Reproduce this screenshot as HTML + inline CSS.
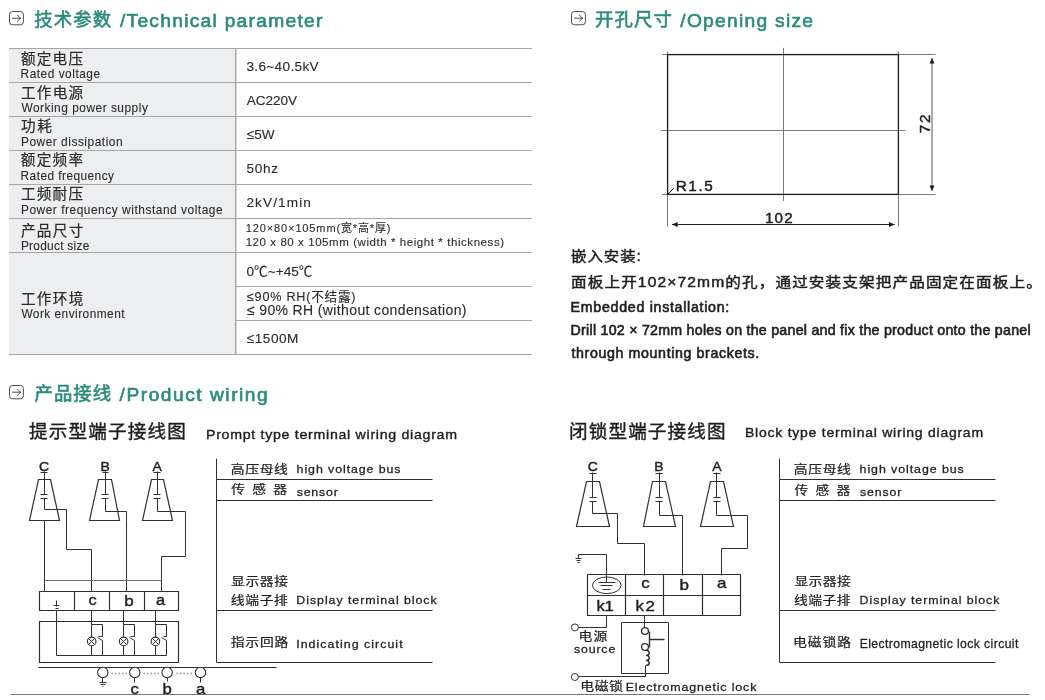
<!DOCTYPE html>
<html lang="zh-CN">
<head>
<meta charset="utf-8">
<title>技术参数 / Technical parameter</title>
<style>
*{box-sizing:border-box;margin:0;padding:0}
html,body{width:1045px;height:700px;background:#fff;overflow:hidden}
body{position:relative;will-change:transform;font-family:"Liberation Sans","Noto Sans CJK SC",sans-serif;color:#1e1e1e}
h2,p,span.x,div.x{position:absolute;white-space:nowrap;line-height:1;font-weight:400;font-size:13px}
.x{position:absolute;white-space:nowrap;line-height:1;font-weight:400;-webkit-text-stroke-color:currentColor}
h2{left:0;top:0;width:0;height:0}
.ico{position:absolute;width:15px;height:15px}
table{position:absolute;left:9px;top:48px;width:523px;border-collapse:collapse;table-layout:fixed}
td{height:34px;border-top:1px solid #a6a6a6;border-bottom:1px solid #a6a6a6;padding:0}
td.k{width:226.5px;background:#edeef0;border-right:1px solid #a6a6a6;box-shadow:1px 0 0 #d6d6d6}
svg{position:absolute;left:0;top:0;overflow:visible}
svg text{font-family:"Liberation Sans","Noto Sans CJK SC",sans-serif;fill:#1e1e1e;stroke:#1e1e1e;stroke-linejoin:round}
</style>
</head>
<body>
<section id="tech">
<svg class="ico" style="left:9.2px;top:11px" width="15" height="15" viewBox="0 0 15 15" aria-hidden="true"><rect x="0.5" y="0.5" width="13.9" height="13.3" rx="3" ry="3" fill="none" stroke="#4a4a4a" stroke-width="1"/><path d="M3.5 7.2H11.5M8.3 4.1L11.6 7.2L8.3 10.3" fill="none" stroke="#3c3c3c" stroke-width="0.9" stroke-linecap="round" stroke-linejoin="round"/></svg><h2 id="h1"><span class="x" id="h1z" style="left:34.27px;top:11px;font-size:18.4px;color:#2c8b7d;letter-spacing:1.09px;-webkit-text-stroke-width:0.6px">技术参数</span> <span class="x" id="h1e" style="left:119.94px;top:11px;font-size:19.2px;color:#2c8b7d;letter-spacing:1.28px;-webkit-text-stroke-width:0.65px">/Technical parameter</span></h2>
<table>
<tr><td class="k" id="c1k"><span class="x" id="k1z" style="left:11.98px;top:3.52px;font-size:14.6px;color:#2b2b2b;letter-spacing:1.22px;-webkit-text-stroke-width:0.2px">额定电压</span><span class="x" id="k1e" style="left:11.57px;top:20.14px;font-size:11.9px;color:#2b2b2b;letter-spacing:0.51px;-webkit-text-stroke-width:0.1px">Rated voltage</span></td><td class="v" id="c1v"><span class="x" id="v1" style="left:237.4px;top:11.78px;font-size:13.6px;color:#2b2b2b;letter-spacing:0.34px;-webkit-text-stroke-width:0.12px">3.6~40.5kV</span></td></tr>
<tr><td class="k" id="c2k"><span class="x" id="k2z" style="left:11.92px;top:37px;font-size:14.6px;color:#2b2b2b;letter-spacing:1.31px;-webkit-text-stroke-width:0.2px">工作电源</span><span class="x" id="k2e" style="left:12.4px;top:54.14px;font-size:11.9px;color:#2b2b2b;letter-spacing:0.51px;-webkit-text-stroke-width:0.1px">Working power supply</span></td><td class="v" id="c2v"><span class="x" id="v2" style="left:237.83px;top:45.78px;font-size:13.6px;color:#2b2b2b;letter-spacing:-0.06px;-webkit-text-stroke-width:0.12px">AC220V</span></td></tr>
<tr><td class="k" id="c3k"><span class="x" id="k3z" style="left:11.98px;top:70px;font-size:14.6px;color:#2b2b2b;letter-spacing:1.61px;-webkit-text-stroke-width:0.2px">功耗</span><span class="x" id="k3e" style="left:11.93px;top:88.14px;font-size:11.9px;color:#2b2b2b;letter-spacing:0.53px;-webkit-text-stroke-width:0.1px">Power dissipation</span></td><td class="v" id="c3v"><span class="x" id="v3" style="left:237.76px;top:79.78px;font-size:13.6px;color:#2b2b2b;letter-spacing:-0.01px;-webkit-text-stroke-width:0.12px">≤5W</span></td></tr>
<tr><td class="k" id="c4k"><span class="x" id="k4z" style="left:11.82px;top:104px;font-size:14.6px;color:#2b2b2b;letter-spacing:1.27px;-webkit-text-stroke-width:0.2px">额定频率</span><span class="x" id="k4e" style="left:11.57px;top:122.14px;font-size:11.9px;color:#2b2b2b;letter-spacing:0.44px;-webkit-text-stroke-width:0.1px">Rated frequency</span></td><td class="v" id="c4v"><span class="x" id="v4" style="left:237.4px;top:113.78px;font-size:13.6px;color:#2b2b2b;letter-spacing:0.72px;-webkit-text-stroke-width:0.12px">50hz</span></td></tr>
<tr><td class="k" id="c5k"><span class="x" id="k5z" style="left:11.88px;top:138px;font-size:14.6px;color:#2b2b2b;letter-spacing:1.24px;-webkit-text-stroke-width:0.2px">工频耐压</span><span class="x" id="k5e" style="left:11.93px;top:156.14px;font-size:11.9px;color:#2b2b2b;letter-spacing:0.54px;-webkit-text-stroke-width:0.1px">Power frequency withstand voltage</span></td><td class="v" id="c5v"><span class="x" id="v5" style="left:237.4px;top:147.78px;font-size:13.6px;color:#2b2b2b;letter-spacing:1.11px;-webkit-text-stroke-width:0.12px">2kV/1min</span></td></tr>
<tr><td class="k" id="c6k"><span class="x" id="k6z" style="left:11.89px;top:175.26px;font-size:14.6px;color:#2b2b2b;letter-spacing:1.34px;-webkit-text-stroke-width:0.2px">产品尺寸</span><span class="x" id="k6e" style="left:11.93px;top:192.14px;font-size:11.9px;color:#2b2b2b;letter-spacing:0.27px;-webkit-text-stroke-width:0.1px">Product size</span></td><td class="v" id="c6v"><span class="x" id="v6a" style="left:236.87px;top:174.65px;font-size:11px;color:#2b2b2b;letter-spacing:0.87px;-webkit-text-stroke-width:0.12px">120×80×105mm(宽*高*厚)</span><span class="x" id="v6b" style="left:236.67px;top:188.22px;font-size:11.5px;color:#2b2b2b;letter-spacing:0.57px;-webkit-text-stroke-width:0.12px">120 x 80 x 105mm (width * height * thickness)</span></td></tr>
<tr><td class="k" id="c7k" rowspan="3"><span class="x" id="k7z" style="left:11.92px;top:243.95px;font-size:14.6px;color:#2b2b2b;letter-spacing:1.33px;-webkit-text-stroke-width:0.2px">工作环境</span><span class="x" id="k7e" style="left:12.4px;top:260.14px;font-size:11.9px;color:#2b2b2b;letter-spacing:0.46px;-webkit-text-stroke-width:0.1px">Work environment</span></td><td class="v" id="c7v"><span class="x" id="v7" style="left:237.54px;top:216.78px;font-size:13.6px;color:#2b2b2b;letter-spacing:0.02px;-webkit-text-stroke-width:0.12px">0℃~+45℃</span></td></tr>
<tr><td class="v" id="c8v"><span class="x" id="v8a" style="left:237.92px;top:242px;font-size:12.6px;color:#2b2b2b;letter-spacing:0.78px;-webkit-text-stroke-width:0.12px">≤90% RH(不结露)</span><span class="x" id="v8b" style="left:237.91px;top:254.1px;font-size:14px;color:#2b2b2b;letter-spacing:0.37px;-webkit-text-stroke-width:0.12px">≤ 90% RH (without condensation)</span></td></tr>
<tr><td class="v" id="c9v"><span class="x" id="v9" style="left:237.76px;top:283.78px;font-size:13.6px;color:#2b2b2b;letter-spacing:0.53px;-webkit-text-stroke-width:0.12px">≤1500M</span></td></tr>
</table>
</section>
<section id="open">
<svg class="ico" style="left:570.6px;top:10.7px" width="15" height="15" viewBox="0 0 15 15" aria-hidden="true"><rect x="0.5" y="0.5" width="13.9" height="13.3" rx="3" ry="3" fill="none" stroke="#4a4a4a" stroke-width="1"/><path d="M3.5 7.2H11.5M8.3 4.1L11.6 7.2L8.3 10.3" fill="none" stroke="#3c3c3c" stroke-width="0.9" stroke-linecap="round" stroke-linejoin="round"/></svg><h2 id="h2"><span class="x" id="h2z" style="left:594.95px;top:11px;font-size:18.4px;color:#2c8b7d;letter-spacing:1.17px;-webkit-text-stroke-width:0.6px">开孔尺寸</span><span class="x" id="h2e" style="left:680.31px;top:11px;font-size:19.2px;color:#2c8b7d;letter-spacing:1.28px;-webkit-text-stroke-width:0.65px">/Opening size</span></h2>
<div id="inst"><p class="x" id="p1" style="left:571px;top:249px;font-size:14px;color:#1e1e1e;letter-spacing:0.9px;-webkit-text-stroke-width:0.45px;transform:scaleX(1.1);transform-origin:0 0">嵌入安装:</p>
<p class="x" id="p2" style="left:571px;top:275px;font-size:14.2px;color:#1e1e1e;letter-spacing:1.01px;-webkit-text-stroke-width:0.45px;transform:scaleX(1.1);transform-origin:0 0">面板上开102×72mm的孔，通过安装支架把产品固定在面板上。</p>
<p class="x" id="p3" style="left:570.62px;top:300px;font-size:14.2px;color:#1e1e1e;letter-spacing:0.72px;-webkit-text-stroke-width:0.6px">Embedded installation:</p>
<p class="x" id="p4" style="left:570.62px;top:323px;font-size:14.2px;color:#1e1e1e;letter-spacing:0.26px;-webkit-text-stroke-width:0.6px">Drill 102 × 72mm holes on the panel and fix the product onto the panel</p>
<p class="x" id="p5" style="left:571.52px;top:346px;font-size:14.2px;color:#1e1e1e;letter-spacing:0.63px;-webkit-text-stroke-width:0.6px">through mounting brackets.</p></div>
</section>
<section id="wiring">
<svg class="ico" style="left:9.2px;top:384.6px" width="15" height="15" viewBox="0 0 15 15" aria-hidden="true"><rect x="0.5" y="0.5" width="13.9" height="13.3" rx="3" ry="3" fill="none" stroke="#4a4a4a" stroke-width="1"/><path d="M3.5 7.2H11.5M8.3 4.1L11.6 7.2L8.3 10.3" fill="none" stroke="#3c3c3c" stroke-width="0.9" stroke-linecap="round" stroke-linejoin="round"/></svg><h2 id="h3"><span class="x" id="h3z" style="left:34.54px;top:385px;font-size:18.4px;color:#2c8b7d;letter-spacing:1.03px;-webkit-text-stroke-width:0.6px">产品接线</span><span class="x" id="h3e" style="left:119.61px;top:385px;font-size:19.2px;color:#2c8b7d;letter-spacing:1.51px;-webkit-text-stroke-width:0.65px">/Product wiring</span></h2>
<div class="x" id="d1" style="left:29.1px;top:423.04px;font-size:18.6px;color:#1e1e1e;letter-spacing:1.14px;-webkit-text-stroke-width:0.4px">提示型端子接线图</div>
<div class="x" id="d1e" style="left:206px;top:428px;font-size:13.4px;color:#1e1e1e;letter-spacing:0.66px;-webkit-text-stroke-width:0.38px;transform:scaleX(1.06);transform-origin:0 0">Prompt type terminal wiring diagram</div>
<div class="x" id="d2" style="left:569.09px;top:422.72px;font-size:18.6px;color:#1e1e1e;letter-spacing:1.1px;-webkit-text-stroke-width:0.4px">闭锁型端子接线图</div>
<div class="x" id="d2e" style="left:745px;top:426px;font-size:13.2px;color:#1e1e1e;letter-spacing:0.72px;-webkit-text-stroke-width:0.38px;transform:scaleX(1.06);transform-origin:0 0">Block type terminal wiring diagram</div>
<svg width="1045" height="700" viewBox="0 0 1045 700">
<defs><marker id="ar" viewBox="0 0 10 10" refX="10" refY="5" markerWidth="5.6" markerHeight="5.6" markerUnits="userSpaceOnUse" orient="auto-start-reverse"><path d="M0 0.6L10 5L0 9.4z" fill="#1c1c1c"/></marker></defs>
<g id="opening" fill="none" stroke="#7a7a7a" stroke-width="1">
<path d="M662 54.5H935.5M662 194.5H935.5M667.5 51.5V226.6M898.5 51.5V226.6"/>
<path d="M783.5 47.8V200.9M660.8 130.5H905.4"/>
<rect x="667.6" y="54.6" width="230.8" height="139.8" stroke="#1c1c1c" stroke-width="1.3"/>
<path d="M667.6 194.4L673.8 188.2" stroke="#1c1c1c"/>
<path d="M932 58V191" stroke="#666" stroke-width="1.1" marker-start="url(#ar)" marker-end="url(#ar)"/>
<path d="M672 224.5H894.6" stroke="#222" stroke-width="1.1" marker-start="url(#ar)" marker-end="url(#ar)"/>
</g>
<g id="wiring-left" fill="none" stroke="#303030" stroke-width="1">
<path stroke-width="1.2" d="M38.5 479.5H50.5L59.5 520.5H29.5Z M98.5 479.5H111.5L119.5 520.5H89.5Z M151.5 479.5H163.5L172.5 520.5H142.5Z"/>
<path d="M44.5 471.5V494.5M40.5 472.5H47.5"/>
<path stroke-width="1.2" d="M40.5 494.5H47.5M40.5 498.5H47.5"/>
<path d="M105.5 471.5V494.5M102.5 472.5H108.5"/>
<path stroke-width="1.2" d="M101.5 494.5H108.5M101.5 498.5H108.5"/>
<path d="M157.5 471.5V494.5M153.5 472.5H160.5"/>
<path stroke-width="1.2" d="M153.5 494.5H160.5M153.5 498.5H160.5"/>
<path d="M44.5 498.5V509.5H66.5V549.5H91.5V591.5"/>
<path d="M105.5 498.5V511.5H126.5V591.5"/>
<path d="M157.5 498.5V511.5H185.5V556.5H161.5V591.5"/>
<path d="M44.5 520.5V591.5"/>
<path stroke="#6a6a6a" d="M44.5 580.5H161.5"/>
<path stroke-width="1.2" d="M39.5 591.5H178.5V610.5H39.5ZM74.5 591.5V610.5M109.5 591.5V610.5M144.5 591.5V610.5"/>
<path d="M56.5 600.5V606.5M53.5 605.5H59.5M55.5 608.5H58.5"/>
<path stroke-width="1.2" d="M39.5 621.5H178.5V662.5H39.5Z"/>
<path d="M56.5 610.5V655.5H166.5"/>
<path d="M91.5 610.5V637.5M91.5 645.5V655.5M91.5 624.5H102.5V636.5H98.5M97.5 637.5L102.5 640.5V655.5"/>
<circle cx="91.7" cy="641.4" r="4.3" stroke-width="1.1"/>
<path d="M88.5 638.5L94.5 644.5M94.5 638.5L88.5 644.5"/>
<path d="M123.5 610.5V637.5M123.5 645.5V655.5M123.5 624.5H134.5V636.5H130.5M129.5 637.5L134.5 640.5V655.5"/>
<circle cx="123.6" cy="641.4" r="4.3" stroke-width="1.1"/>
<path d="M120.5 638.5L126.5 644.5M126.5 638.5L120.5 644.5"/>
<path d="M155.5 610.5V637.5M155.5 645.5V655.5M155.5 624.5H166.5V636.5H163.5M161.5 637.5L166.5 640.5V655.5"/>
<circle cx="155.4" cy="641.4" r="4.3" stroke-width="1.1"/>
<path d="M152.5 638.5L158.5 644.5M158.5 638.5L152.5 644.5"/>
<path d="M38.5 667.5H276.5"/>
<circle cx="102.8" cy="672.5" r="5.2" fill="#fff" stroke-width="1.1"/>
<circle cx="134.8" cy="672.5" r="5.2" fill="#fff" stroke-width="1.1"/>
<circle cx="167.1" cy="672.5" r="5.2" fill="#fff" stroke-width="1.1"/>
<circle cx="200.5" cy="672.5" r="5.2" fill="#fff" stroke-width="1.1"/>
<path stroke="#8a8a8a" stroke-width="1.5" stroke-dasharray="1.4 2.1" d="M111.5 673.5H128.5M143.5 673.5H160.5M176.5 673.5H193.5"/>
<path d="M102.5 677.5V682.5M99.5 682.5H106.5M100.5 684.5H105.5M102.5 686.5H103.5"/>
<path d="M134.5 677.5V682.5M167.5 677.5V681.5M200.5 677.5V682.5"/>
<path d="M216.5 458.5V662.5M216.5 479.5H432.5M216.5 500.5H432.5M216.5 610.5H432.5M216.5 662.5H432.5"/>
</g>
<g id="wiring-right" fill="none" stroke="#303030" stroke-width="1">
<path stroke-width="1.2" d="M586.5 481.5H599.5L609.5 526.5H576.5Z M652.5 481.5H665.5L675.5 526.5H643.5Z M710.5 481.5H723.5L733.5 526.5H700.5Z"/>
<path d="M592.5 472.5V497.5M589.5 473.5H596.5"/>
<path stroke-width="1.2" d="M589.5 497.5H596.5M589.5 501.5H596.5"/>
<path d="M659.5 472.5V497.5M655.5 473.5H662.5"/>
<path stroke-width="1.2" d="M655.5 497.5H662.5M655.5 501.5H662.5"/>
<path d="M716.5 472.5V497.5M713.5 473.5H720.5"/>
<path stroke-width="1.2" d="M713.5 497.5H720.5M713.5 501.5H720.5"/>
<path d="M592.5 501.5V513.5H617.5V543.5H644.5V575.5"/>
<path d="M659.5 501.5V515.5H682.5V575.5"/>
<path d="M716.5 501.5V515.5H747.5V548.5H721.5V575.5"/>
<path d="M606.5 582.5V554.5H578.5V558.5M575.5 558.5H581.5M576.5 560.5H580.5M577.5 562.5H579.5"/>
<path stroke-width="1.2" d="M587.5 574.5H740.5V615.5H587.5ZM587.5 595.5H740.5M625.5 574.5V615.5M663.5 574.5V615.5M702.5 574.5V615.5"/>
<ellipse cx="606.8" cy="585.3" rx="14.3" ry="8.3"/>
<path stroke-width="1.2" d="M598.5 582.5H615.5M600.5 585.5H612.5M602.5 589.5H610.5"/>
<path d="M606.5 615.5V627.5H578.5"/>
<circle cx="574.9" cy="627.4" r="3.5"/>
<circle cx="574.9" cy="677" r="3.5"/>
<path d="M578.5 676.5H645.5V665.5"/>
<path d="M621.5 622.5H668.5V673.5H621.5Z"/>
<path d="M644.5 615.5V627.5"/>
<path stroke-width="1.4" d="M649.5 631.5V647.5M649.5 639.5H664.5"/>
<circle cx="645" cy="631" r="3.4" stroke-width="1.3"/>
<circle cx="645" cy="647" r="3.4" stroke-width="1.3"/>
<path stroke-width="1.4" d="M646 650.4a3.2 2.5 0 0 1 0 5a3.2 2.5 0 0 1 0 5a3.2 2.5 0 0 1 0 5"/>
<path d="M779.5 458.5V662.5M779.5 479.5H995.5M779.5 500.5H995.5M779.5 610.5H995.5M779.5 662.5H995.5"/>
</g>
<path id="rule" d="M10.5 694.5H1029.5" stroke="#777" stroke-width="1" fill="none"/>
<g id="labels">
<text id="t102" font-size="14.4" letter-spacing="1.15" stroke-width="0.45" transform="translate(764.88 223) scale(1.06 1)">102</text>
<text id="tR" font-size="14.4" letter-spacing="1.51" stroke-width="0.45" transform="translate(675.69 191) scale(1.06 1)">R1.5</text>
<text id="t72" font-size="14.4" letter-spacing="1.58" stroke-width="0.45" transform="translate(930.14 133.13) rotate(-90) scale(1.06 1)">72</text>
<text id="lC" font-size="13.2" stroke-width="0.45" transform="translate(38.99 471) scale(1.06 1)">C</text>
<text id="lB" font-size="13.2" stroke-width="0.45" transform="translate(100.52 471) scale(1.06 1)">B</text>
<text id="lA" font-size="13.2" stroke-width="0.45" transform="translate(152.59 471) scale(1.06 1)">A</text>
<text id="rC" font-size="13.2" stroke-width="0.45" transform="translate(587.67 470.74) scale(1.06 1)">C</text>
<text id="rB" font-size="13.2" stroke-width="0.45" transform="translate(654.21 470.74) scale(1.06 1)">B</text>
<text id="rA" font-size="13.2" stroke-width="0.45" transform="translate(712.19 470.74) scale(1.06 1)">A</text>
<text id="lc" font-size="14.6" stroke-width="0.4" transform="translate(88.53 605) scale(1.12 1)">c</text>
<text id="lb" font-size="15.2" stroke-width="0.4" transform="translate(124.13 606.33) scale(1.12 1)">b</text>
<text id="la" font-size="14.6" stroke-width="0.4" transform="translate(156.08 605) scale(1.12 1)">a</text>
<text id="bc" font-size="15" stroke-width="0.4" transform="translate(130.46 693.8) scale(1.12 1)">c</text>
<text id="bb" font-size="15" stroke-width="0.4" transform="translate(162.61 693.8) scale(1.12 1)">b</text>
<text id="ba" font-size="15" stroke-width="0.4" transform="translate(196.11 693.8) scale(1.12 1)">a</text>
<text id="rc" font-size="15.2" stroke-width="0.4" transform="translate(641.18 588) scale(1.12 1)">c</text>
<text id="rb" font-size="15.2" stroke-width="0.4" transform="translate(679.62 590.17) scale(1.12 1)">b</text>
<text id="ra" font-size="15.2" stroke-width="0.4" transform="translate(717.02 588) scale(1.12 1)">a</text>
<text id="k1" font-size="15" letter-spacing="-0.49" stroke-width="0.4" transform="translate(596.55 610.72) scale(1.12 1)">k1</text>
<text id="k2" font-size="15" letter-spacing="1.59" stroke-width="0.4" transform="translate(635.43 610.72) scale(1.12 1)">k2</text>
<text id="lz1" font-size="12" letter-spacing="0.54" stroke-width="0.22" transform="translate(230.85 474) scale(1.15 1)">高压母线</text>
<text id="le1" font-size="11.8" letter-spacing="0.88" stroke-width="0.28" transform="translate(296.6 472.56) scale(1.05 1)">high voltage bus</text>
<text id="lz2" font-size="12" letter-spacing="1.47" stroke-width="0.22" transform="translate(231.18 493.68) scale(1.15 1)">传 感 器</text>
<text id="le2" font-size="11.8" letter-spacing="0.76" stroke-width="0.28" transform="translate(296.69 495.79) scale(1.05 1)">sensor</text>
<text id="lz3" font-size="12" letter-spacing="0.49" stroke-width="0.22" transform="translate(231.12 585.68) scale(1.15 1)">显示器接</text>
<text id="lz4" font-size="12" letter-spacing="0.56" stroke-width="0.22" transform="translate(230.78 605.14) scale(1.15 1)">线端子排</text>
<text id="le4" font-size="11.8" letter-spacing="0.91" stroke-width="0.28" transform="translate(296.31 604.04) scale(1.05 1)">Display terminal block</text>
<text id="lz5" font-size="12" letter-spacing="0.67" stroke-width="0.22" transform="translate(230.79 646.84) scale(1.15 1)">指示回路</text>
<text id="le5" font-size="11.8" letter-spacing="0.99" stroke-width="0.28" transform="translate(296.22 648.32) scale(1.05 1)">Indicating circuit</text>
<text id="rz1" font-size="12" letter-spacing="0.57" stroke-width="0.22" transform="translate(793.78 474.17) scale(1.15 1)">高压母线</text>
<text id="re1" font-size="11.8" letter-spacing="0.89" stroke-width="0.28" transform="translate(859.6 472.56) scale(1.05 1)">high voltage bus</text>
<text id="rz2" font-size="12" letter-spacing="1.48" stroke-width="0.22" transform="translate(794.42 495) scale(1.15 1)">传 感 器</text>
<text id="re2" font-size="11.8" letter-spacing="0.81" stroke-width="0.28" transform="translate(859.93 496.27) scale(1.05 1)">sensor</text>
<text id="rz3" font-size="12" letter-spacing="0.35" stroke-width="0.22" transform="translate(794.41 585.94) scale(1.15 1)">显示器接</text>
<text id="rz4" font-size="12" letter-spacing="0.44" stroke-width="0.22" transform="translate(793.97 605.04) scale(1.15 1)">线端子排</text>
<text id="re4" font-size="11.8" letter-spacing="0.88" stroke-width="0.28" transform="translate(859.61 604) scale(1.05 1)">Display terminal block</text>
<text id="rz5" font-size="12" letter-spacing="0.84" stroke-width="0.22" transform="translate(793 647) scale(1.15 1)">电磁锁路</text>
<text id="re5" font-size="12.2" letter-spacing="0.41" stroke-width="0.28" x="859.64" y="647.74">Electromagnetic lock circuit</text>
<text id="sz1" font-size="12" letter-spacing="1.04" stroke-width="0.22" transform="translate(578.6 640.7) scale(1.15 1)">电源</text>
<text id="se1" font-size="11.8" letter-spacing="0.81" stroke-width="0.28" transform="translate(573.89 653) scale(1.05 1)">source</text>
<text id="sz2" font-size="12" letter-spacing="0.53" stroke-width="0.22" transform="translate(580.29 691) scale(1.15 1)">电磁锁</text>
<text id="se2" font-size="11.8" letter-spacing="0.83" stroke-width="0.28" transform="translate(625.65 691) scale(1.05 1)">Electromagnetic lock</text>
</g>
</svg>
</section>
</body>
</html>
